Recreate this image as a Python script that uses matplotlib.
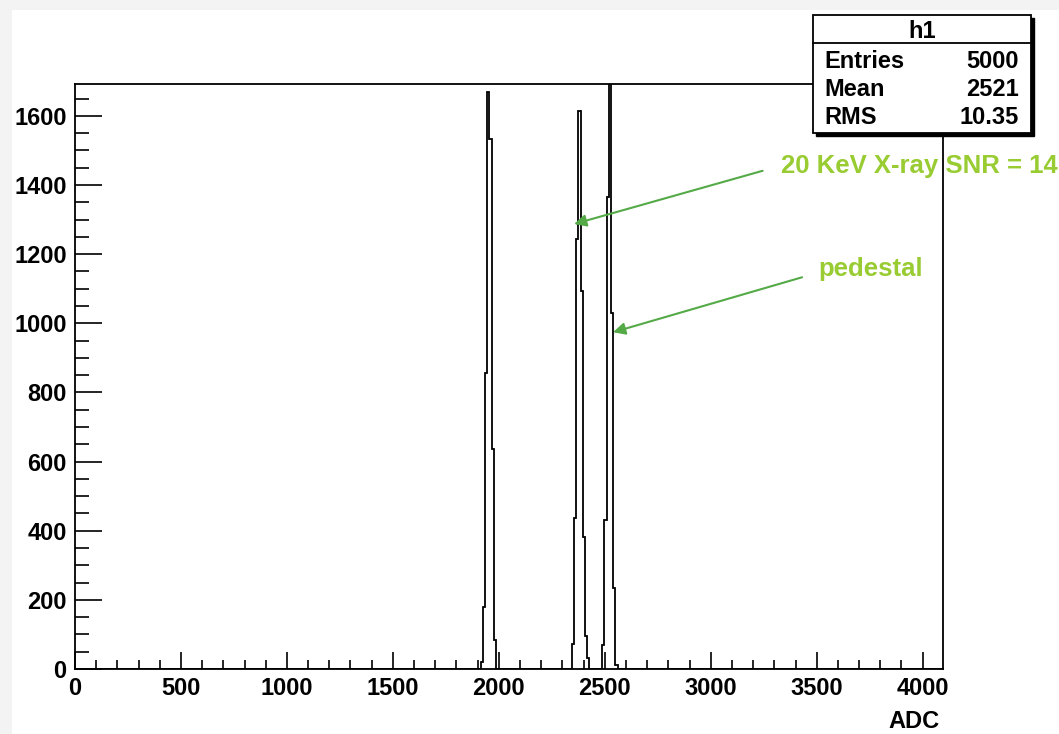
import numpy as np
import matplotlib
matplotlib.use('Agg')
import matplotlib.pyplot as plt
from matplotlib.patches import Rectangle
from matplotlib.ticker import MultipleLocator

# ---------------- data ----------------
n_bins = 400
x_min, x_max = 0, 4096
peak1_start_bin = 187
peak1_counts = [21, 178, 855, 1670, 1533, 635, 84]
xray_start_bin = 229
xray_counts = [72, 437, 1245, 1614, 1093, 382, 96, 32]
pedestal_start_bin = 243
pedestal_counts = [70, 432, 1364, 1857, 1031, 234, 12]

x_ticks = [0, 500, 1000, 1500, 2000, 2500, 3000, 3500, 4000]
y_ticks = [0, 200, 400, 600, 800, 1000, 1200, 1400, 1600]
y_max = 1692
x_label = 'ADC'

stats_title = 'h1'
stats_labels = ['Entries', 'Mean', 'RMS']
stats_values = ['5000', '2521', '10.35']

xray_text = '20 KeV X-ray SNR = 14'
xray_text_pos = (3330, 1455)
xray_arrow_tail = (3245, 1441)
xray_arrow_head = (2355, 1287)
ped_text = 'pedestal'
ped_text_pos = (3508, 1157)
ped_arrow_tail = (3431, 1133)
ped_arrow_head = (2539, 974)

# ---------------- build histogram ----------------
edges = np.linspace(x_min, x_max, n_bins + 1)
counts = np.zeros(n_bins)
for start, vals in [(peak1_start_bin, peak1_counts),
                    (xray_start_bin, xray_counts),
                    (pedestal_start_bin, pedestal_counts)]:
    counts[start:start + len(vals)] = vals

W, H = 1059, 734
fig = plt.figure(figsize=(W / 100, H / 100), dpi=100)
fig.patch.set_facecolor('white')

FONT = 'Liberation Sans'
plt.rcParams['font.family'] = [FONT, 'DejaVu Sans']

def fx(px):
    return px / W

def fy(py):
    return 1 - py / H

# faint slide border bands
fig.patches.append(Rectangle((0, fy(10)), 1, 10 / H, transform=fig.transFigure,
                             facecolor='#f3f3f3', edgecolor='none', zorder=0))
fig.patches.append(Rectangle((0, 0), 12 / W, 1, transform=fig.transFigure,
                             facecolor='#f3f3f3', edgecolor='none', zorder=0))

ax = fig.add_axes([fx(75), fy(669), fx(943) - fx(75), fy(84) - fy(669)])
ax.set_facecolor('white')
ax.stairs(counts, edges, color='black', lw=1.3, baseline=0)

ax.set_xlim(x_min, x_max)
ax.set_ylim(0, y_max)
ax.set_xticks(x_ticks)
ax.set_yticks(y_ticks)
ax.xaxis.set_minor_locator(MultipleLocator(100))
ax.yaxis.set_minor_locator(MultipleLocator(50))
for s in ax.spines.values():
    s.set_linewidth(1.3)
ax.tick_params(axis='x', which='major', direction='in', length=12.6, width=1.2,
               pad=6, labelsize=17)
ax.tick_params(axis='x', which='minor', direction='in', length=6.3, width=1.2)
ax.tick_params(axis='y', which='major', direction='in', length=19.4, width=1.2,
               pad=6, labelsize=17)
ax.tick_params(axis='y', which='minor', direction='in', length=10, width=1.2)
for lab in ax.get_xticklabels() + ax.get_yticklabels():
    lab.set_fontweight('bold')

fig.text(fx(940), fy(722), x_label, ha='right', va='center',
         fontsize=17, fontweight='bold')

# ---------------- annotations ----------------
text_green = '#99cc33'
arrow_green = '#55aa48'
ax.annotate('', xy=xray_arrow_head, xytext=xray_arrow_tail,
            arrowprops=dict(arrowstyle='-|>', color=arrow_green, lw=1.5,
                            mutation_scale=18, shrinkA=0, shrinkB=0),
            annotation_clip=False)
ax.annotate('', xy=ped_arrow_head, xytext=ped_arrow_tail,
            arrowprops=dict(arrowstyle='-|>', color=arrow_green, lw=1.5,
                            mutation_scale=18, shrinkA=0, shrinkB=0),
            annotation_clip=False)
ax.text(xray_text_pos[0], xray_text_pos[1], xray_text, color=text_green,
        fontsize=18.5, fontweight='bold', ha='left', va='center', clip_on=False)
ax.text(ped_text_pos[0], ped_text_pos[1], ped_text, color=text_green,
        fontsize=18.5, fontweight='bold', ha='left', va='center', clip_on=False)

# ---------------- stats box ----------------
bx0, bx1, by0, by1 = 813, 1031, 15, 133
shadow = Rectangle((fx(bx0 + 3), fy(by1 + 3)), fx(bx1) - fx(bx0), fy(by0) - fy(by1),
                   transform=fig.transFigure, facecolor='black', edgecolor='black',
                   lw=1.0, zorder=5)
box = Rectangle((fx(bx0), fy(by1)), fx(bx1) - fx(bx0), fy(by0) - fy(by1),
                transform=fig.transFigure, facecolor='white', edgecolor='black',
                lw=1.3, zorder=6)
fig.patches.append(shadow)
fig.patches.append(box)
fig.lines.append(plt.Line2D([fx(bx0), fx(bx1)], [fy(43), fy(43)],
                            transform=fig.transFigure, color='black', lw=1.3, zorder=7))
fig.text(fx((bx0 + bx1) / 2), fy(32), stats_title, ha='center', va='center',
         fontsize=17, fontweight='bold', zorder=8)
row_y = [61, 89, 117]
for yy, lab, val in zip(row_y, stats_labels, stats_values):
    fig.text(fx(824), fy(yy), lab, ha='left', va='center', fontsize=17,
             fontweight='bold', zorder=8)
    fig.text(fx(1019), fy(yy), val, ha='right', va='center', fontsize=17,
             fontweight='bold', zorder=8)

fig.savefig('out.png', dpi=100)
